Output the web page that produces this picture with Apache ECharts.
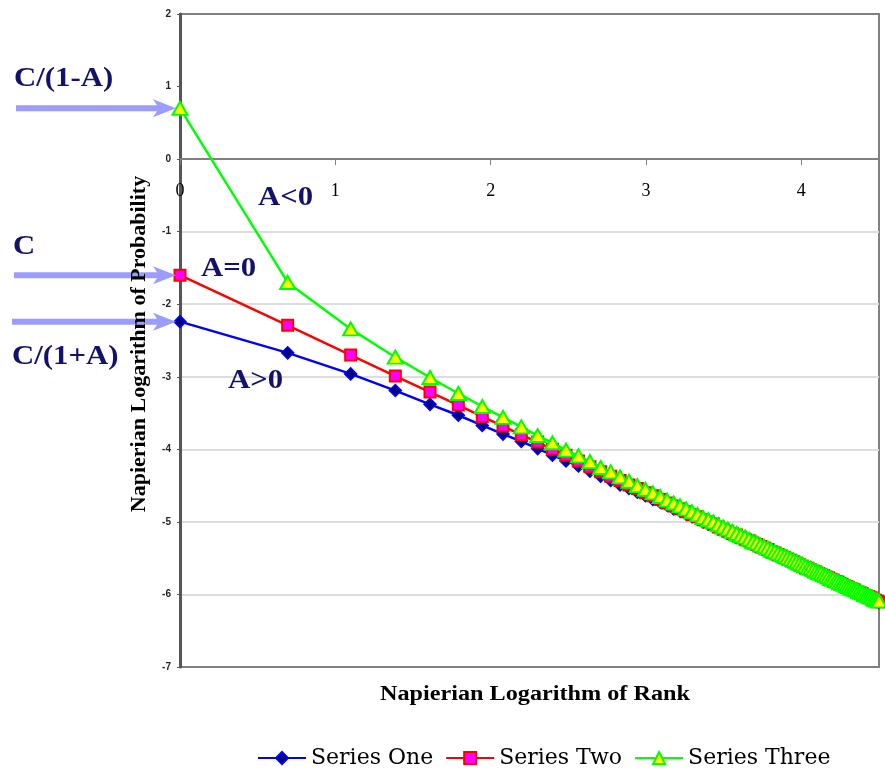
<!DOCTYPE html>
<html>
<head>
<meta charset="utf-8">
<script src="https://cdn.jsdelivr.net/npm/echarts@6/dist/echarts.min.js"></script>
<style>
  html, body { margin: 0; padding: 0; background: #ffffff; }
  #chart { width: 885px; height: 769px; }
</style>
</head>
<body>
<div id="chart"></div>
<script>
// Rank of each item (plotted on a natural-log scale)
const ranks = [
  1, 2, 3, 4, 5, 6, 7, 8, 9, 10,
  11, 12, 13, 14, 15, 16, 17, 18, 19, 20,
  21, 22, 23, 24, 25, 26, 27, 28, 29, 30,
  31, 32, 33, 34, 35, 36, 37, 38, 39, 40,
  41, 42, 43, 44, 45, 46, 47, 48, 49, 50,
  51, 52, 53, 54, 55, 56, 57, 58, 59, 60,
  61, 62, 63, 64, 65, 66, 67, 68, 69, 70,
  71, 72, 73, 74, 75, 76, 77, 78, 79, 80,
  81, 82, 83, 84, 85, 86, 87, 88, 89, 90
];

// ln(probability) per rank, A > 0
const seriesOne = [
  -2.24, -2.67, -2.96, -3.19, -3.38, -3.53, -3.67, -3.79, -3.89, -3.99,
  -4.08, -4.16, -4.23, -4.30, -4.37, -4.43, -4.49, -4.54, -4.59, -4.64,
  -4.69, -4.73, -4.77, -4.82, -4.85, -4.89, -4.93, -4.96, -5.00, -5.03,
  -5.06, -5.09, -5.12, -5.15, -5.18, -5.21, -5.23, -5.26, -5.29, -5.31,
  -5.34, -5.36, -5.38, -5.40, -5.43, -5.45, -5.47, -5.49, -5.51, -5.53,
  -5.55, -5.57, -5.59, -5.61, -5.62, -5.64, -5.66, -5.68, -5.69, -5.71,
  -5.73, -5.74, -5.76, -5.77, -5.79, -5.80, -5.82, -5.83, -5.85, -5.86,
  -5.88, -5.89, -5.90, -5.92, -5.93, -5.94, -5.96, -5.97, -5.98, -5.99,
  -6.01, -6.02, -6.03, -6.04, -6.05, -6.06, -6.08, -6.09, -6.10, -6.11
];

// ln(probability) per rank, A = 0
const seriesTwo = [
  -1.60, -2.29, -2.70, -2.99, -3.21, -3.39, -3.55, -3.68, -3.80, -3.90,
  -4.00, -4.08, -4.16, -4.24, -4.31, -4.37, -4.43, -4.49, -4.54, -4.60,
  -4.64, -4.69, -4.74, -4.78, -4.82, -4.86, -4.90, -4.93, -4.97, -5.00,
  -5.03, -5.07, -5.10, -5.13, -5.16, -5.18, -5.21, -5.24, -5.26, -5.29,
  -5.31, -5.34, -5.36, -5.38, -5.41, -5.43, -5.45, -5.47, -5.49, -5.51,
  -5.53, -5.55, -5.57, -5.59, -5.61, -5.63, -5.64, -5.66, -5.68, -5.69,
  -5.71, -5.73, -5.74, -5.76, -5.77, -5.79, -5.80, -5.82, -5.83, -5.85,
  -5.86, -5.88, -5.89, -5.90, -5.92, -5.93, -5.94, -5.96, -5.97, -5.98,
  -5.99, -6.01, -6.02, -6.03, -6.04, -6.05, -6.07, -6.08, -6.09, -6.10
];

// ln(probability) per rank, A < 0
const seriesThree = [
   0.70, -1.70, -2.34, -2.73, -3.01, -3.23, -3.41, -3.56, -3.69, -3.81,
  -3.91, -4.01, -4.09, -4.17, -4.25, -4.31, -4.38, -4.44, -4.50, -4.55,
  -4.60, -4.65, -4.70, -4.74, -4.78, -4.82, -4.86, -4.90, -4.94, -4.97,
  -5.00, -5.04, -5.07, -5.10, -5.13, -5.16, -5.19, -5.21, -5.24, -5.27,
  -5.29, -5.32, -5.34, -5.36, -5.39, -5.41, -5.43, -5.45, -5.47, -5.49,
  -5.51, -5.53, -5.55, -5.57, -5.59, -5.61, -5.63, -5.64, -5.66, -5.68,
  -5.70, -5.71, -5.73, -5.74, -5.76, -5.78, -5.79, -5.81, -5.82, -5.84,
  -5.85, -5.86, -5.88, -5.89, -5.91, -5.92, -5.93, -5.94, -5.96, -5.97,
  -5.98, -6.00, -6.01, -6.02, -6.03, -6.04, -6.06, -6.07, -6.08, -6.09
];

const seriesNames = ['Series One', 'Series Two', 'Series Three'];

// Intercept labels, one per series (pointing at the rank-1 value)
const interceptLabels = ['C/(1+A)', 'C', 'C/(1-A)'];
const curveLabels = ['A>0', 'A=0', 'A<0'];

const SERIF = '"Liberation Serif", "Times New Roman", serif';
const NAVY = '#12126c';
const ARROW = '#9c9cff';

function toPoints(values) {
  return ranks.map((r, i) => [Math.log(r), values[i]]);
}

const chart = echarts.init(document.getElementById('chart'), null, { renderer: 'canvas' });

const transparent = 'rgba(0,0,0,0)';

// Plot-area geometry (pixels)
const GRID = { left: 180, right: 6, top: 14, bottom: 102 };
const plotBottom = 769 - GRID.bottom;
const Y_MIN = -7, Y_MAX = 2;
// Pixel height of the y = 0 line above the plot bottom
const zeroRise = (0 - Y_MIN) / (Y_MAX - Y_MIN) * (plotBottom - GRID.top);

const xScale = { type: 'value', min: 0, max: 4.5, interval: 1 };

chart.setOption({
  animation: false,
  backgroundColor: '#ffffff',
  grid: Object.assign({
    show: true,
    borderColor: '#808080',
    borderWidth: 2,
    outerBoundsMode: 'none'
  }, GRID),
  legend: {
    data: seriesNames,
    left: 252,
    top: 742,
    itemWidth: 48,
    itemHeight: 15,
    itemGap: 12,
    textStyle: { fontFamily: '"DejaVu Serif", serif', fontSize: 22, color: '#000000' }
  },
  xAxis: [
    // tick labels, lifted to sit just under the y = 0 line
    Object.assign({
      position: 'bottom',
      axisLine: { show: false, onZero: false },
      axisTick: { show: false },
      axisLabel: {
        fontFamily: SERIF, fontSize: 18, color: '#000000',
        margin: -zeroRise + 23,
        showMaxLabel: false
      },
      splitLine: { show: false }
    }, xScale),
    // the axis line with its ticks, crossing at y = 0
    Object.assign({
      position: 'bottom',
      axisLine: { show: true, onZero: true, lineStyle: { color: '#808080', width: 2 } },
      axisTick: { show: true, length: 6, lineStyle: { color: '#808080', width: 1 } },
      axisLabel: { show: false },
      splitLine: { show: false }
    }, xScale)
  ],
  yAxis: {
    type: 'value',
    min: Y_MIN,
    max: Y_MAX,
    interval: 1,
    axisLine: { show: true, onZero: false, lineStyle: { color: '#555555', width: 3 } },
    axisTick: { show: true, length: 3, lineStyle: { color: '#555555' } },
    axisLabel: {
      fontFamily: '"Liberation Sans", Arial, sans-serif', fontWeight: 'bold',
      fontSize: 10, color: '#222222', margin: 9
    },
    splitLine: {
      show: true,
      lineStyle: {
        width: 2,
        color: [transparent, '#dddddd', '#dddddd', '#dddddd', '#dddddd', '#dddddd', '#dddddd',
                transparent, transparent, transparent]
      }
    }
  },
  series: [
    {
      name: seriesNames[0],
      type: 'line',
      xAxisIndex: 0,
      data: toPoints(seriesOne),
      symbol: 'diamond',
      symbolSize: 12,
      showAllSymbol: true,
      lineStyle: { color: '#0000ff', width: 2.5 },
      itemStyle: { color: '#000080', borderColor: '#0000ff', borderWidth: 1.5 },
      z: 2
    },
    {
      name: seriesNames[1],
      type: 'line',
      xAxisIndex: 0,
      data: toPoints(seriesTwo),
      symbol: 'rect',
      symbolSize: 11,
      showAllSymbol: true,
      lineStyle: { color: '#ff0000', width: 2.5 },
      itemStyle: { color: '#ff00ff', borderColor: '#ff0000', borderWidth: 2 },
      z: 3
    },
    {
      name: seriesNames[2],
      type: 'line',
      xAxisIndex: 0,
      data: toPoints(seriesThree),
      symbol: 'triangle',
      symbolSize: [15, 13],
      showAllSymbol: true,
      lineStyle: { color: '#00ff00', width: 2.5 },
      itemStyle: { color: '#ffff00', borderColor: '#00ff00', borderWidth: 2 },
      z: 4
    }
  ]
});

// Annotation layer: axis titles, curve labels and the intercept arrows
const firstValues = [seriesOne[0], seriesTwo[0], seriesThree[0]];
const arrowStart = [12, 14, 16];
const labelPos = [[12, 357], [13, 247], [14, 79]];
const curvePos = [[228, 381], [201, 269], [258, 198]];

const graphics = [];

function label(text, x, y, font, opts) {
  return Object.assign({
    type: 'text',
    x: x, y: y,
    silent: true,
    z: 10,
    style: Object.assign({
      text: text,
      fill: NAVY,
      font: font,
      align: 'left',
      verticalAlign: 'middle'
    }, (opts && opts.style) || {})
  }, (opts && opts.el) || {});
}

const annFont = 'bold 27px ' + SERIF;
for (let i = 0; i < 3; i++) {
  const p = chart.convertToPixel({ xAxisIndex: 0, yAxisIndex: 0 }, [Math.log(ranks[0]), firstValues[i]]);
  const tipX = p[0] - 4;
  const py = p[1];
  graphics.push({
    type: 'rect', silent: true, z: 9,
    shape: { x: arrowStart[i], y: py - 3, width: tipX - 16 - arrowStart[i], height: 6 },
    style: { fill: ARROW }
  });
  graphics.push({
    type: 'polygon', silent: true, z: 9,
    shape: { points: [[tipX - 23, py - 9], [tipX, py], [tipX - 23, py + 9], [tipX - 17, py]] },
    style: { fill: ARROW }
  });
  graphics.push(label(interceptLabels[i], labelPos[i][0], labelPos[i][1], annFont, { el: { scaleX: 1.14 } }));
  graphics.push(label(curveLabels[i], curvePos[i][0], curvePos[i][1], annFont, { el: { scaleX: 1.14 } }));
}

graphics.push(label('Napierian Logarithm of Rank', 535, 695, 'bold 20px ' + SERIF, {
  style: { fill: '#000000', align: 'center' },
  el: { scaleX: 1.21 }
}));
graphics.push(label('Napierian Logarithm of Probability', 139, 344, 'bold 22px ' + SERIF, {
  style: { fill: '#000000', align: 'center' },
  el: { rotation: Math.PI / 2 }
}));

chart.setOption({ graphic: graphics });
</script>
</body>
</html>
